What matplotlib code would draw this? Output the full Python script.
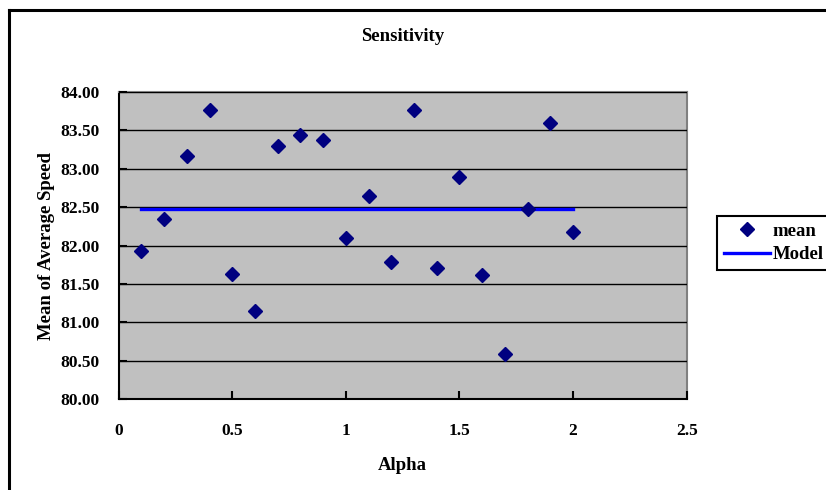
import matplotlib
matplotlib.use("Agg")
import matplotlib.pyplot as plt
from matplotlib.lines import Line2D

alpha = [0.1, 0.2, 0.3, 0.4, 0.5, 0.6, 0.7, 0.8, 0.9, 1.0,
         1.1, 1.2, 1.3, 1.4, 1.5, 1.6, 1.7, 1.8, 1.9, 2.0]
mean_speed = [81.93, 82.35, 83.17, 83.76, 81.63, 81.15, 83.30, 83.44, 83.37, 82.10,
              82.65, 81.78, 83.76, 81.71, 82.89, 81.61, 80.59, 82.47, 83.60, 82.18]
model_x = [0.1, 2.0]
model_y = [82.48, 82.48]
x_ticks = [0, 0.5, 1, 1.5, 2, 2.5]
x_tick_labels = ["0", "0.5", "1", "1.5", "2", "2.5"]
y_ticks = [80.0, 80.5, 81.0, 81.5, 82.0, 82.5, 83.0, 83.5, 84.0]
y_tick_labels = ["%.2f" % v for v in y_ticks]

FONT = "Liberation Serif"
TICK_FS = 12.5
LAB_FS = 13.5

fig = plt.figure(figsize=(8.26, 4.90), dpi=100)
ax = fig.add_axes([118.7 / 826, 1 - 399 / 490, (686.7 - 118.7) / 826, (399 - 92) / 490])
ax.set_facecolor("#C0C0C0")

ax.plot(model_x, model_y, color="#0000FF", lw=2.4, label="Model", zorder=3)
ax.plot(alpha, mean_speed, linestyle="none", marker="D", ms=7,
        color="#000080", label="mean", zorder=4)

ax.set_xlim(0, 2.5)
ax.set_ylim(80, 84)
ax.set_xticks(x_ticks)
ax.set_xticklabels(x_tick_labels, fontfamily=FONT, fontweight="bold", fontsize=TICK_FS)
ax.set_yticks(y_ticks)
ax.set_yticklabels(y_tick_labels, fontfamily=FONT, fontweight="bold", fontsize=TICK_FS)
ax.tick_params(axis="both", direction="in", length=6, width=1.5, color="black")
ax.tick_params(axis="x", pad=17)
ax.tick_params(axis="y", pad=13.5)

ax.yaxis.grid(True, color="black", lw=1.0)
ax.set_axisbelow(False)
for gl in ax.yaxis.get_gridlines():
    gl.set_zorder(1)

for side in ["top", "right"]:
    ax.spines[side].set_color("#808080")
    ax.spines[side].set_linewidth(1.5)
for side in ["left", "bottom"]:
    ax.spines[side].set_color("black")
    ax.spines[side].set_linewidth(1.5)

ax.set_title("Sensitivity", fontfamily=FONT, fontweight="bold", fontsize=LAB_FS, pad=37)
ax.set_xlabel("Alpha", fontfamily=FONT, fontweight="bold", fontsize=LAB_FS, labelpad=13)
ax.set_ylabel("Mean of Average Speed", fontfamily=FONT, fontweight="bold", fontsize=LAB_FS, labelpad=4)

# chart-area border (left and top edges visible)
fig.add_artist(Line2D([8.5 / 826, 8.5 / 826], [0, 1 - 10 / 490], color="black", lw=2.2,
                      transform=fig.transFigure))
fig.add_artist(Line2D([8.5 / 826, 1.0], [1 - 10 / 490, 1 - 10 / 490], color="black", lw=2.2,
                      transform=fig.transFigure))

handles, labels = ax.get_legend_handles_labels()
leg = fig.legend(handles[::-1], labels[::-1], loc="upper left",
                 bbox_to_anchor=(717 / 826, 1 - 216 / 490),
                 prop={"family": FONT, "weight": "bold", "size": LAB_FS},
                 frameon=True, fancybox=False, edgecolor="black", framealpha=1,
                 borderpad=0.35, handlelength=2.5, handletextpad=0.1, labelspacing=0.35,
                 borderaxespad=0)
leg.get_frame().set_linewidth(1.5)

fig.savefig("out.png", dpi=100)
